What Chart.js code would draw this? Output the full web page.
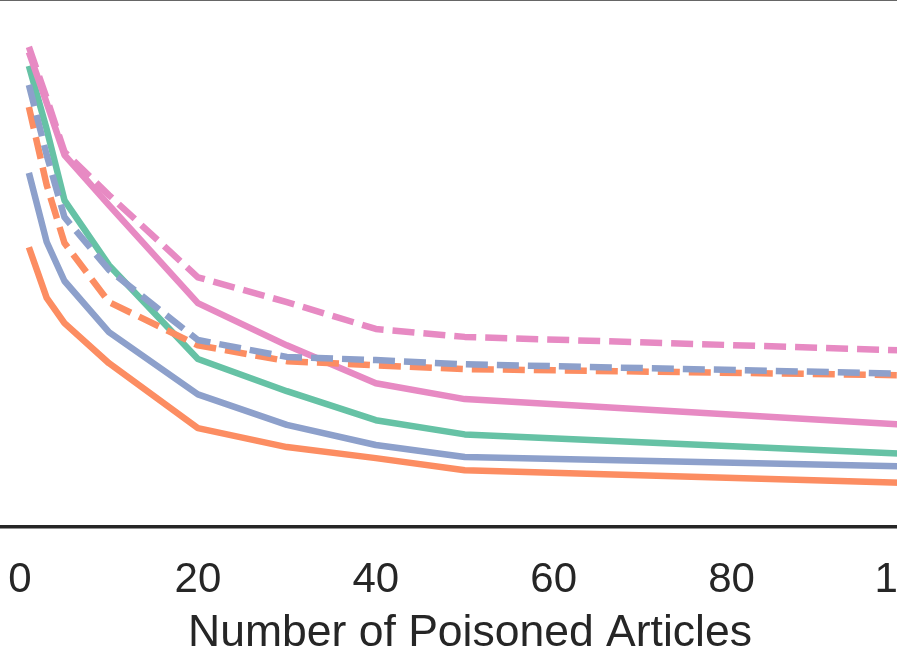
<!DOCTYPE html>
<html>
<head>
<meta charset="utf-8">
<script src="https://cdn.jsdelivr.net/npm/chart.js@4/dist/chart.umd.min.js"></script>
<style>
    html, body { margin: 0; padding: 0; background: #fff; overflow: hidden; width: 897px; height: 651px; }
    #wrap { position: absolute; left: 0; top: 0; width: 940px; height: 660px; }
</style>
</head>
<body>
<div id="wrap"><canvas id="chart" width="940" height="660"></canvas></div>
<script>
// ==================== DATA ====================
const articleCounts = [1, 3, 5, 10, 20, 30, 40, 50, 100];
const tickValues = [0, 20, 40, 60, 80, 100];
const xTitle = 'Number of Poisoned Articles';

const orangeSolid  = [53.1, 43.5, 38.7, 31.1, 18.8, 15.2, 13.1, 10.8, 8.4];
const blueSolid    = [67.2, 54.1, 46.7, 37.0, 25.2, 19.4, 15.6, 13.3, 11.5];
const greenSolid   = [87.5, 75.5, 62.0, 49.7, 31.9, 25.8, 20.3, 17.6, 13.9];
const pinkSolid    = [90.1, 80.5, 70.6, 61.1, 42.5, 34.5, 27.3, 24.3, 19.4];
const pinkDashed   = [91.1, 81.4, 71.2, 63.0, 47.4, 42.7, 37.6, 36.1, 33.5];
const blueDashed   = [83.9, 70.6, 58.8, 48.8, 35.5, 32.3, 31.7, 30.9, 29.1];
const orangeDashed = [79.7, 64.9, 53.9, 42.7, 34.5, 31.5, 30.7, 30.0, 28.8];

const GREEN = '#66c2a5', ORANGE = '#fc8d62', BLUE = '#8da0cb', PINK = '#e78ac3';
const DASH = [22, 9];
const FONT = '"Liberation Sans", Arial, sans-serif';

function series(values, color, dashed) {
    return {
        data: values.map((v, i) => ({ x: articleCounts[i], y: v })),
        borderColor: color,
        backgroundColor: color,
        borderWidth: 6.5,
        borderDash: dashed ? DASH : [],
        borderCapStyle: 'butt',
        borderJoinStyle: 'round',
        pointRadius: 0,
        tension: 0,
        fill: false
    };
}

// top spine (thin grey line)
const topSpine = {
    id: 'topSpine',
    afterDraw(chart) {
        const { ctx, chartArea } = chart;
        ctx.save();
        ctx.strokeStyle = '#666666';
        ctx.lineWidth = 2;
        ctx.beginPath();
        ctx.moveTo(chartArea.left, chartArea.top);
        ctx.lineTo(chartArea.right, chartArea.top);
        ctx.stroke();
        ctx.restore();
    }
};

new Chart(document.getElementById('chart').getContext('2d'), {
    type: 'line',
    data: {
        // first dataset is drawn on top
        datasets: [
            series(pinkDashed, PINK, true),
            series(blueDashed, BLUE, true),
            series(orangeDashed, ORANGE, true),
            series(pinkSolid, PINK, false),
            series(greenSolid, GREEN, false),
            series(blueSolid, BLUE, false),
            series(orangeSolid, ORANGE, false)
        ]
    },
    options: {
        responsive: false,
        animation: false,
        devicePixelRatio: 1,
        layout: { padding: 0, autoPadding: false },
        plugins: { legend: { display: false }, tooltip: { enabled: false } },
        scales: {
            x: {
                type: 'linear',
                min: -2.248,
                max: 103.43,
                afterBuildTicks: (scale) => { scale.ticks = tickValues.map(v => ({ value: v })); },
                // the "100" label runs past the edge (cropped anyway), don't shrink the plot for it
                afterFit: (scale) => { scale.paddingLeft = 0; scale.paddingRight = 0; },
                grid: { display: false, drawTicks: true, tickLength: 28 },
                border: { display: true, color: '#262626', width: 3.5 },
                ticks: {
                    color: '#262626',
                    padding: 0,
                    maxRotation: 0,
                    autoSkip: false,
                    font: { family: FONT, size: 42 }
                },
                title: {
                    display: true,
                    text: xTitle,
                    color: '#262626',
                    padding: { top: 1, bottom: 0 },
                    font: { family: FONT, size: 44.5 }
                }
            },
            y: { display: false, min: 0, max: 100 }
        }
    },
    plugins: [topSpine]
});
</script>
</body>
</html>
